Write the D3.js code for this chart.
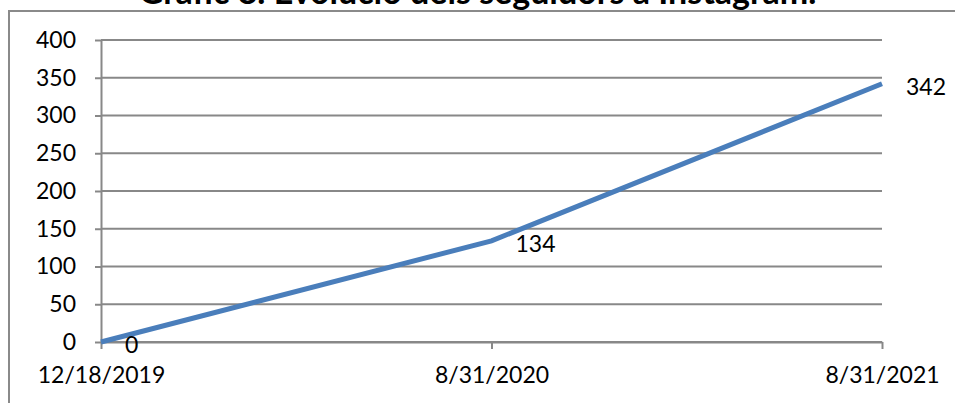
<!DOCTYPE html>
<html>
<head>
<meta charset="utf-8">
<script src="https://cdn.jsdelivr.net/npm/d3@7"></script>
<style>
  body { margin: 0; background: #fff; }
  svg { display: block; }
  .axis text { font-family: Lato, "Open Sans", sans-serif; fill: #000; }
  .axis path, .axis line { stroke: #888; stroke-width: 2; }
</style>
</head>
<body>
<div id="chart"></div>
<script>
// chart size and margins
const width = 955,
      height = 403,
      margin = {top: 40, right: 73, bottom: 61, left: 101};

const innerWidth = width - margin.left - margin.right,
      innerHeight = height - margin.top - margin.bottom;

// data
const dates = ["12/18/2019", "8/31/2020", "8/31/2021"];
const followers = [0, 134, 342];
const yTicks = [0, 50, 100, 150, 200, 250, 300, 350, 400];
const title = "Gràfic 8. Evolució dels seguidors a Instagram.";

const svg = d3.select("#chart")
              .append("svg")
                .attr("width", width)
                .attr("height", height);

// outer chart border (runs off the right and bottom edge)
svg.append("rect")
  .attr("x", 9)
  .attr("y", 11)
  .attr("width", 1000)
  .attr("height", 500)
  .attr("fill", "none")
  .attr("stroke", "#8a8a8a")
  .attr("stroke-width", 2);

// title, cut off at the top
svg.append("text")
  .attr("x", width / 2)
  .attr("y", 4)
  .attr("text-anchor", "middle")
  .style("font-family", "Lato, 'Open Sans', sans-serif")
  .style("font-weight", "bold")
  .style("font-size", "34px")
  .text(title);

const g = svg.append("g")
  .attr("transform", "translate(" + margin.left + "," + margin.top + ")");

const xScale = d3.scalePoint()
  .domain(dates)
  .range([0, innerWidth]);

const yScale = d3.scaleLinear()
  .domain([0, 400])
  .range([innerHeight, 0]);

// gridlines
g.selectAll(".grid")
  .data(yTicks)
  .enter()
  .append("line")
    .attr("class", "grid")
    .attr("x1", 0)
    .attr("x2", innerWidth)
    .attr("y1", d => yScale(d))
    .attr("y2", d => yScale(d))
    .attr("stroke", "#888")
    .attr("stroke-width", 2);

// y axis
g.append("g")
  .attr("class", "axis y-axis")
  .call(d3.axisLeft(yScale).tickValues(yTicks).tickSize(6).tickSizeOuter(0).tickPadding(19))
  .call(a => a.selectAll("text").style("font-size", "23px"));

// x axis
g.append("g")
  .attr("class", "axis x-axis")
  .attr("transform", "translate(0," + innerHeight + ")")
  .call(d3.axisBottom(xScale).tickSize(7).tickSizeOuter(0).tickPadding(18))
  .call(a => a.selectAll("text").style("font-size", "23px"));

// line
const line = d3.line()
  .x((d, i) => xScale(dates[i]))
  .y(d => yScale(d));

g.append("path")
  .datum(followers)
  .attr("fill", "none")
  .attr("stroke", "#4a7ebb")
  .attr("stroke-width", 5)
  .attr("d", line);

// data labels to the right of each point
g.selectAll(".label")
  .data(followers)
  .enter()
  .append("text")
    .attr("class", "label")
    .attr("x", (d, i) => xScale(dates[i]) + 24)
    .attr("y", d => yScale(d) + 3)
    .attr("dy", "0.35em")
    .style("font-family", "Lato, 'Open Sans', sans-serif")
    .style("font-size", "23px")
    .text(d => d);
</script>
</body>
</html>
